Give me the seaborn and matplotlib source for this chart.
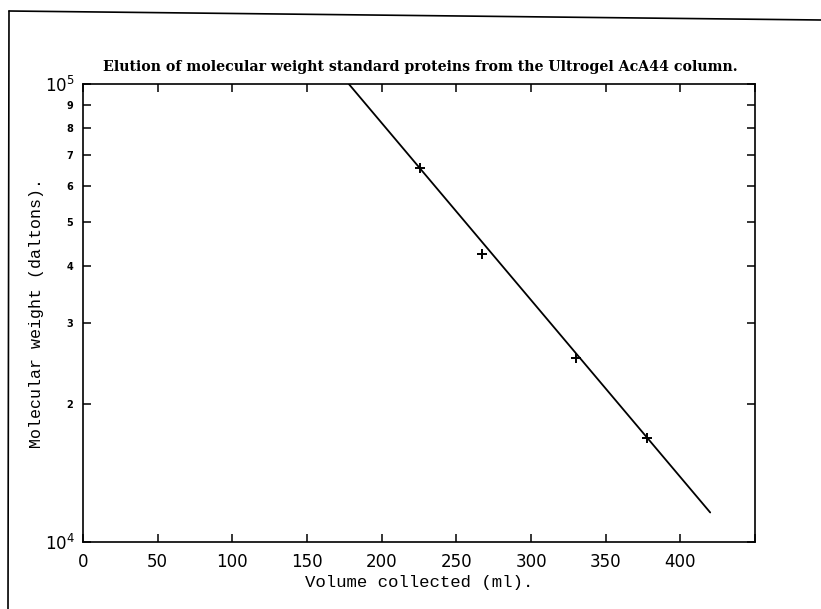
import matplotlib
matplotlib.use("Agg")
import matplotlib.pyplot as plt
from matplotlib.lines import Line2D
from matplotlib.ticker import FixedLocator, FixedFormatter
import seaborn as sns

# ---- data ----
volume = [226, 267, 330, 378]            # ml
mol_weight = [65500, 42500, 25200, 16900]  # daltons
fit_volume = [178, 420]
fit_mol_weight = [100000, 11600]

x_ticks = [0, 50, 100, 150, 200, 250, 300, 350, 400, 450]
x_tick_labels = ["0", "50", "100", "150", "200", "250", "300", "350", "400", ""]
y_major = [1e4, 1e5]
y_major_labels = [r"$10^{4}$", r"$10^{5}$"]
y_minor = [2e4, 3e4, 4e4, 5e4, 6e4, 7e4, 8e4, 9e4]
y_minor_labels = ["2", "3", "4", "5", "6", "7", "8", "9"]

title = "Elution of molecular weight standard proteins from the Ultrogel AcA44 column."
xlabel = "Volume collected (ml)."
ylabel = "Molecular weight (daltons)."

sns.set_style("ticks")
plt.rcParams["font.family"] = ["DejaVu Sans"]
plt.rcParams["text.color"] = "black"
plt.rcParams["axes.labelcolor"] = "black"
plt.rcParams["xtick.color"] = "black"
plt.rcParams["ytick.color"] = "black"

W, H = 821, 609
fig = plt.figure(figsize=(W / 100, H / 100), dpi=100)
left, right, top, bottom = 83, 755, 84, 542
ax = fig.add_axes([left / W, 1 - bottom / H, (right - left) / W, (bottom - top) / H])

sns.lineplot(x=fit_volume, y=fit_mol_weight, ax=ax, color="black", linewidth=1.3)
sns.scatterplot(x=volume, y=mol_weight, ax=ax, marker="+", color="black",
                s=45, linewidth=1.4, zorder=3)

ax.set_yscale("log")
ax.set_xlim(0, 450)
ax.set_ylim(1e4, 1e5)

ax.xaxis.set_major_locator(FixedLocator(x_ticks))
ax.xaxis.set_major_formatter(FixedFormatter(x_tick_labels))
ax.yaxis.set_major_locator(FixedLocator(y_major))
ax.yaxis.set_major_formatter(FixedFormatter(y_major_labels))
ax.yaxis.set_minor_locator(FixedLocator(y_minor))
ax.yaxis.set_minor_formatter(FixedFormatter(y_minor_labels))

for s in ax.spines.values():
    s.set_visible(True)
    s.set_linewidth(1.2)
    s.set_color("black")

ax.tick_params(which="both", direction="in", top=True, right=True,
               length=5.5, width=1.1, color="black", labelcolor="black")
ax.tick_params(axis="x", labelsize=12, pad=8)
ax.tick_params(axis="y", which="major", labelsize=12, pad=6)
ax.tick_params(axis="y", which="minor", labelsize=7, pad=7)
for lab in ax.yaxis.get_minorticklabels():
    lab.set_fontweight("bold")

ax.set_xlabel(xlabel, fontsize=12.5, color="black",
              family=["Liberation Mono", "DejaVu Sans Mono"])
ax.set_ylabel(ylabel, fontsize=12, color="black",
              family=["Liberation Mono", "DejaVu Sans Mono"])
ax.xaxis.label.set_va("center")
ax.yaxis.label.set_va("center")
ax.yaxis.label.set_ha("center")
ax.xaxis.set_label_coords(0.5, (bottom - 583) / (bottom - top))
ax.yaxis.set_label_coords((37 - left) / (right - left), 0.5)

fig.text(420 / W, 1 - 67 / H, title, ha="center", va="center", color="black",
         fontsize=10.2, fontweight="bold", family=["DejaVu Serif"])

# scanned page frame (top and left edges)
fig.add_artist(Line2D([9 / W, 1.0], [1 - 11 / H, 1 - 20 / H],
                      transform=fig.transFigure, color="black", linewidth=1.2))
fig.add_artist(Line2D([9 / W, 8 / W], [1 - 11 / H, 0.0],
                      transform=fig.transFigure, color="black", linewidth=1.2))

fig.savefig("out.png", dpi=100, facecolor="white")
